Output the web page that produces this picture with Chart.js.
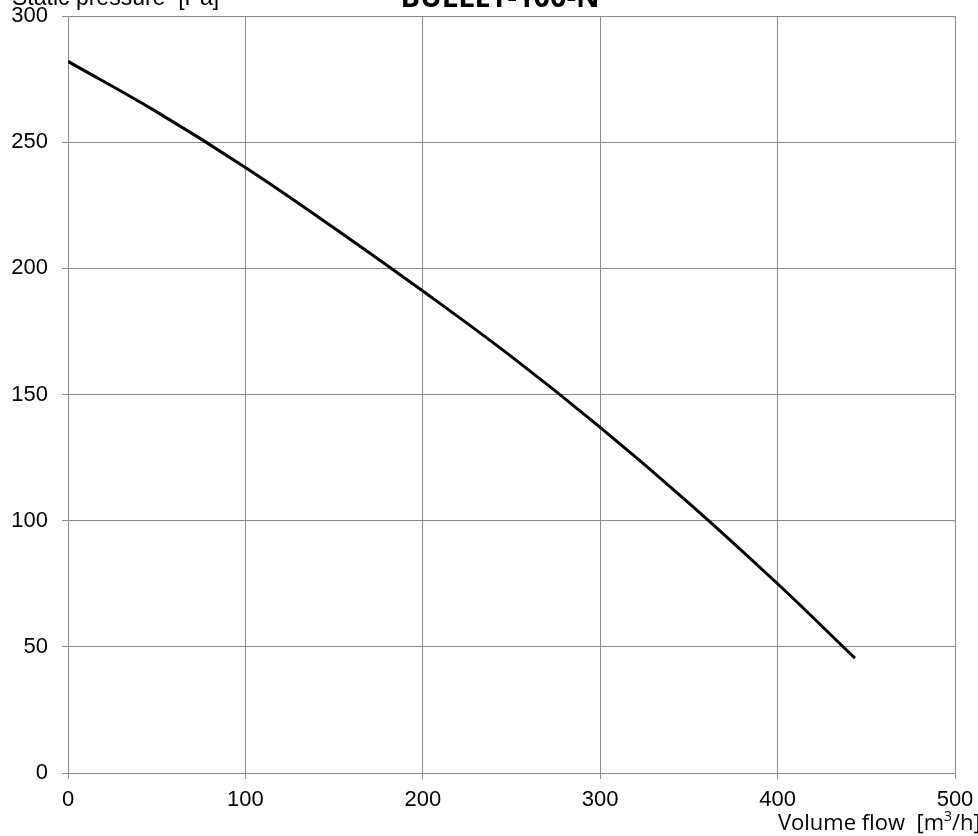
<!DOCTYPE html>
<html>
<head>
<meta charset="utf-8">
<script src="https://cdn.jsdelivr.net/npm/chart.js@4/dist/chart.umd.min.js"></script>
<style>
html,body{margin:0;padding:0;background:#fff;}
#wrap{width:978px;height:836px;}
</style>
</head>
<body>
<div id="wrap"><canvas id="c" width="978" height="836"></canvas></div>
<script>
const flowValues = [0, 50, 100, 150, 200, 250, 300, 350, 400, 443.6];
const pressureValues = [282, 262, 240, 216, 191, 165, 137, 107, 75, 45.5];
const xTicks = [0, 100, 200, 300, 400, 500];
const yTicks = [0, 50, 100, 150, 200, 250, 300];
const chartTitle = 'BULLET-100-N';
const yAxisTitle = 'Static pressure  [Pa]';
const xAxisTitle = 'Volume flow  [m³/h]';

const points = flowValues.map((x, i) => ({x: x, y: pressureValues[i]}));

const textPlugin = {
  id: 'texts',
  afterDraw(chart) {
    const ctx = chart.ctx;
    ctx.save();
    ctx.fillStyle = '#000';
    ctx.textBaseline = 'alphabetic';
    ctx.font = 'bold 29px "Open Sans", sans-serif';
    ctx.textAlign = 'center';
    ctx.fillText(chartTitle, 500, 7);
    ctx.font = '23px "Liberation Sans", Arial, sans-serif';
    ctx.textAlign = 'left';
    ctx.fillText(yAxisTitle, 12, 5);
    ctx.font = '22px "Open Sans", sans-serif';
    ctx.textAlign = 'right';
    ctx.fillText('Volume flow  [m', 944, 830);
    ctx.font = '14px "Open Sans", sans-serif';
    ctx.textAlign = 'left';
    ctx.fillText('3', 944, 821);
    ctx.font = '22px "Open Sans", sans-serif';
    ctx.fillText('/h]', 952, 830);
    ctx.restore();
  }
};

new Chart(document.getElementById('c'), {
  type: 'scatter',
  data: {
    datasets: [{
      data: points,
      showLine: true,
      borderColor: '#000',
      borderWidth: 3,
      pointRadius: 0,
      tension: 0.4,
      fill: false
    }]
  },
  options: {
    responsive: false,
    animation: false,
    devicePixelRatio: 1,
    layout: {padding: {top: 16, right: 23, left: 0, bottom: 0}},
    plugins: {legend: {display: false}, tooltip: {enabled: false}, title: {display: false}},
    scales: {
      x: {
        type: 'linear',
        min: 0, max: 500,
        afterBuildTicks: (axis) => { axis.ticks = xTicks.map(v => ({value: v})); },
        afterFit: (axis) => { axis.height = 63; axis.paddingLeft = 0; axis.paddingRight = 0; },
        grid: {color: '#8a8a8a', lineWidth: 1, tickLength: 6, drawTicks: true},
        border: {color: '#8a8a8a', width: 1},
        ticks: {color: '#000', font: {family: '"Liberation Sans", Arial, sans-serif', size: 22}, padding: 8, maxRotation: 0}
      },
      y: {
        type: 'linear',
        min: 0, max: 300,
        afterBuildTicks: (axis) => { axis.ticks = yTicks.map(v => ({value: v})); },
        afterFit: (axis) => { axis.width = 68; axis.paddingTop = 0; axis.paddingBottom = 0; },
        grid: {color: '#8a8a8a', lineWidth: 1, tickLength: 6, drawTicks: true},
        border: {color: '#8a8a8a', width: 1},
        ticks: {color: '#000', font: {family: '"Liberation Sans", Arial, sans-serif', size: 22}, padding: 14}
      }
    }
  },
  plugins: [textPlugin]
});
</script>
</body>
</html>
